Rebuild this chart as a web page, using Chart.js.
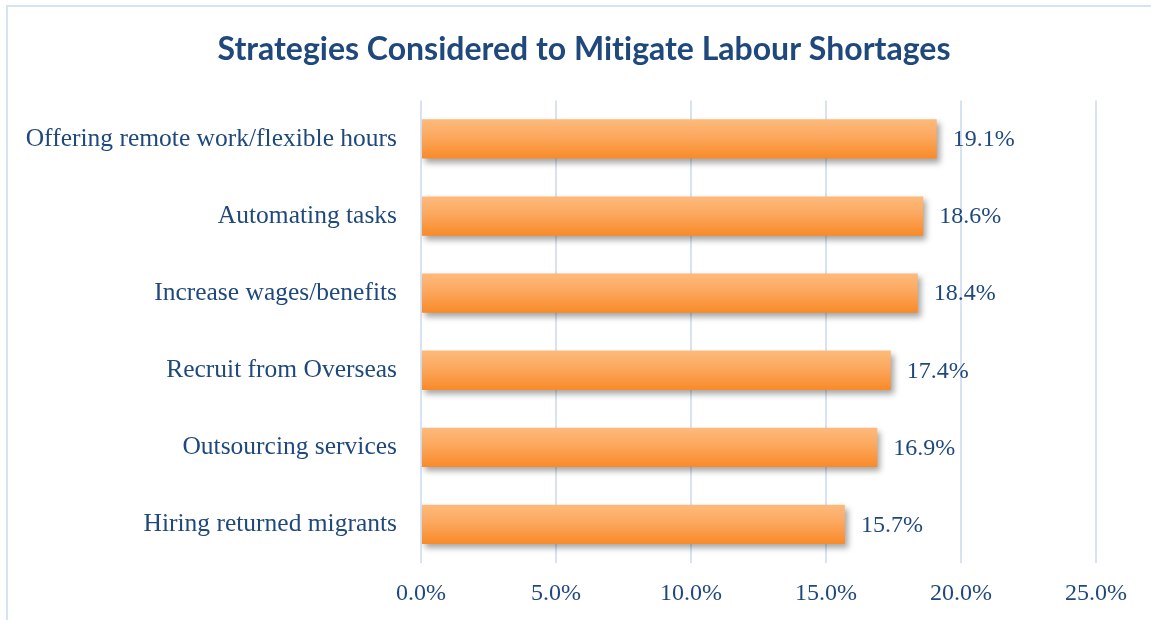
<!DOCTYPE html>
<html>
<head>
<meta charset="utf-8">
<script src="https://cdn.jsdelivr.net/npm/chart.js@4.4.1/dist/chart.umd.min.js"></script>
<style>
    html, body { margin: 0; padding: 0; background: #fff; overflow: hidden; }
    #frame {
        position: absolute; left: 6px; top: 5px; width: 1300px; height: 800px;
        border: 2px solid #d6e3f3; box-sizing: border-box;
    }
    #wrap { position: absolute; left: 0; top: 0; width: 1151px; height: 620px; }
</style>
</head>
<body>
<div id="frame"></div>
<div id="wrap"><canvas id="chart"></canvas></div>
<script>
    'use strict';

    const categories = [
        'Offering remote work/flexible hours',
        'Automating tasks',
        'Increase wages/benefits',
        'Recruit from Overseas',
        'Outsourcing services',
        'Hiring returned migrants'
    ];
    const shares = [19.1, 18.6, 18.4, 17.4, 16.9, 15.7];
    const xTicks = [0, 5, 10, 15, 20, 25];

    const TEXT = '#1f497d';
    const SERIF = '"Liberation Serif", "DejaVu Serif", serif';
    const BAR_PCT = 0.51;

    // vertical orange gradient for each bar, light on top
    function barFill(ctx) {
        const chart = ctx.chart;
        const y = chart.scales.y;
        if (!y || ctx.dataIndex === undefined) return '#fb9a3f';
        const band = y.height / categories.length;
        const mid = y.getPixelForValue(ctx.dataIndex);
        const half = band * BAR_PCT / 2;
        if (!Number.isFinite(mid) || !Number.isFinite(half) || half <= 0) return '#fb9a3f';
        const g = chart.ctx.createLinearGradient(0, mid - half, 0, mid + half);
        g.addColorStop(0, '#fdba7b');
        g.addColorStop(0.4, '#fcaa62');
        g.addColorStop(1, '#f98a28');
        return g;
    }

    // title sits a little right of the canvas centre; no "ti" ligature
    const titleShift = {
        id: 'titleShift',
        afterLayout(chart) {
            if (chart.titleBlock) chart.titleBlock.left = 72;
        },
        beforeDraw(chart) {
            chart.ctx.textRendering = 'optimizeSpeed';
        }
    };

    // soft drop shadow under the bars
    const barShadow = {
        id: 'barShadow',
        beforeDatasetsDraw(chart) {
            const c = chart.ctx;
            c.save();
            c.shadowColor = 'rgba(0,0,0,0.35)';
            c.shadowBlur = 6;
            c.shadowOffsetX = 3;
            c.shadowOffsetY = 4;
        },
        afterDatasetsDraw(chart) {
            chart.ctx.restore();
        }
    };

    // percentage labels to the right of each bar
    const valueLabels = {
        id: 'valueLabels',
        afterDatasetsDraw(chart) {
            const c = chart.ctx;
            const meta = chart.getDatasetMeta(0);
            c.save();
            c.font = '24px ' + SERIF;
            c.fillStyle = TEXT;
            c.textAlign = 'left';
            c.textBaseline = 'middle';
            meta.data.forEach((bar, i) => {
                c.fillText(shares[i].toFixed(1) + '%', bar.x + 16, bar.y + 1);
            });
            c.restore();
        }
    };

    new Chart(document.getElementById('chart'), {
        type: 'bar',
        data: {
            labels: categories,
            datasets: [{
                data: shares,
                backgroundColor: barFill,
                borderWidth: 0,
                barPercentage: BAR_PCT,
                categoryPercentage: 1
            }]
        },
        options: {
            indexAxis: 'y',
            responsive: true,
            maintainAspectRatio: false,
            animation: false,
            layout: { padding: { left: 0, right: 55, top: 0, bottom: 0 } },
            plugins: {
                legend: { display: false },
                tooltip: { enabled: false },
                title: {
                    display: true,
                    text: 'Strategies Considered to Mitigate Labour Shortages',
                    color: TEXT,
                    font: { family: 'Lato, "Open Sans", sans-serif', size: 32, weight: 'bold', lineHeight: 1.2 },
                    padding: { top: 30, bottom: 32 }
                }
            },
            scales: {
                x: {
                    min: 0,
                    max: 25,
                    afterBuildTicks(axis) {
                        axis.ticks = xTicks.map(v => ({ value: v }));
                    },
                    afterFit(axis) { axis.height = 57; },
                    grid: { color: '#d7e3f2', lineWidth: 2, drawTicks: false },
                    border: { display: false },
                    ticks: {
                        color: TEXT,
                        padding: 16,
                        font: { family: SERIF, size: 24 },
                        callback: v => v.toFixed(1) + '%'
                    }
                },
                y: {
                    afterFit(axis) { axis.width = 421; },
                    grid: { display: false, drawTicks: false },
                    border: { display: false },
                    ticks: {
                        color: TEXT,
                        padding: 24,
                        font: { family: SERIF, size: 25.5 }
                    }
                }
            }
        },
        plugins: [titleShift, barShadow, valueLabels]
    });
</script>
</body>
</html>
